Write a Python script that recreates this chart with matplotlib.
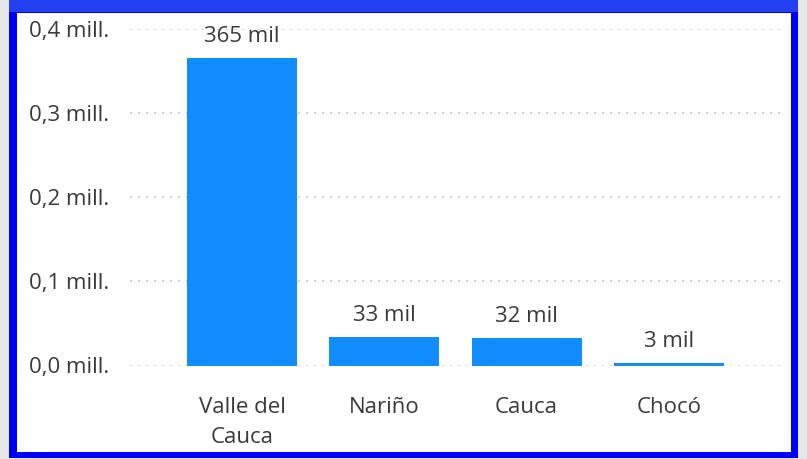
import matplotlib
matplotlib.use("Agg")
import matplotlib.pyplot as plt
from matplotlib.patches import Rectangle

categories = ["Valle del\nCauca", "Nariño", "Cauca", "Chocó"]
values = [365000, 33400, 32300, 3000]
value_labels = ["365 mil", "33 mil", "32 mil", "3 mil"]
yticks = [0, 100000, 200000, 300000, 400000]
ytick_labels = ["0,0 mill.", "0,1 mill.", "0,2 mill.", "0,3 mill.", "0,4 mill."]

W, H = 807, 459
plt.rcParams['font.family'] = ['Open Sans', 'DejaVu Sans']
fig = plt.figure(figsize=(W / 100, H / 100), dpi=100)
fig.patch.set_facecolor('#E6E6E6')

def px_rect(x0, y0, x1, y1, color, z):
    fig.patches.append(Rectangle((x0 / W, 1 - y1 / H), (x1 - x0) / W, (y1 - y0) / H,
                                 transform=fig.transFigure, facecolor=color,
                                 edgecolor='none', zorder=z))

px_rect(9, 0, 798, 458, '#0000FF', -3)
px_rect(9, 0, 798, 12, '#2340F0', -2)
px_rect(17, 13, 791, 452, '#FFFFFF', -1)

ax = fig.add_axes([130 / W, 1 - 365.5 / H, 650 / W, (365.5 - 29) / H])
ax.set_facecolor('none')
x = list(range(len(categories)))
ax.bar(x, values, width=0.773, color='#118DFF', zorder=3)
ax.set_xlim(-0.787, 3.781)
ax.set_ylim(0, 400000)

FS = 16
TC = '#3A3A3A'
for xi, v, lab in zip(x, values, value_labels):
    ax.annotate(lab, (xi, v), xytext=(0, 11.5), textcoords='offset points',
                ha='center', va='baseline', fontsize=FS, color=TC,
                clip_on=False)

ax.set_yticks(yticks)
ax.set_yticklabels(ytick_labels)
ax.set_xticks(x)
ax.set_xticklabels(categories, linespacing=1.55)
ax.tick_params(axis='y', length=0, pad=15, labelsize=FS, labelcolor=TC)
ax.tick_params(axis='x', length=0, pad=23, labelsize=FS, labelcolor=TC)
ax.grid(axis='y', color='#BDBDBD', linewidth=1.2, linestyle=(0, (1, 3.8)), zorder=0)
for s in ax.spines.values():
    s.set_visible(False)

fig.savefig('out.png', dpi=100, facecolor=fig.get_facecolor())
